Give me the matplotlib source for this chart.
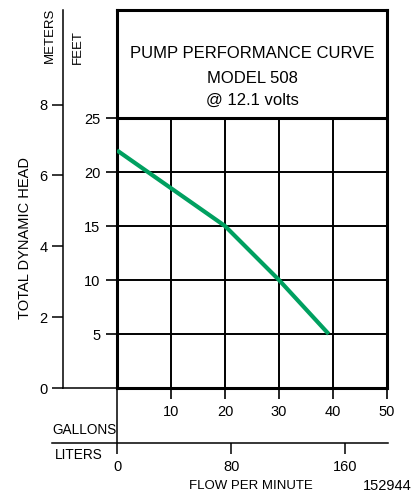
import numpy as np
import matplotlib
matplotlib.use('Agg')
import matplotlib.pyplot as plt

plt.rcParams['font.family'] = ['Liberation Sans Narrow', 'Liberation Sans', 'DejaVu Sans']

# curve data: flow (gallons/min) vs total dynamic head (feet)
flow_gpm = [0, 10, 20, 30, 39.2]
head_ft = [22, 18.5, 15, 10, 5]

feet_ticks = [5, 10, 15, 20, 25]
meter_ticks = [0, 2, 4, 6, 8]
gallon_ticks = [10, 20, 30, 40, 50]
liter_ticks = [0, 80, 160]

W, H = 420, 493
FT_PER_M = 3.2808
L_PER_GAL = 3.785


def box(x0, y0, x1, y1):
    # pixel box (top-left origin) -> figure fraction rect
    return [x0 / W, 1 - y1 / H, (x1 - x0) / W, (y1 - y0) / H]


fig = plt.figure(figsize=(W / 100, H / 100), dpi=100)

# main chart
ax = fig.add_axes(box(117, 10, 387, 388))
ax.set_xlim(0, 50)
ax.set_ylim(0, 35)
for s in ax.spines.values():
    s.set_linewidth(2.2)
for g in [10, 20, 30, 40]:
    ax.plot([g, g], [0, 25], color='black', lw=1.4, zorder=1)
for f in [5, 10, 15, 20]:
    ax.axhline(f, color='black', lw=1.4, zorder=1)
ax.axhline(25, color='black', lw=2.2, zorder=1)
ax.plot(flow_gpm, head_ft, color='#00A060', lw=3.0, solid_capstyle='butt', zorder=3)

ax.set_yticks(feet_ticks)
ax.set_yticklabels([str(t) for t in feet_ticks])
ax.set_xticks(gallon_ticks)
ax.set_xticklabels([str(t) for t in gallon_ticks])
ax.tick_params(axis='both', direction='out', length=8, width=1.2, labelsize=10.5, pad=4)

ax.text(25, 30.95, 'PUMP PERFORMANCE CURVE', ha='center', va='center', fontsize=12)
ax.text(25, 28.65, 'MODEL 508', ha='center', va='center', fontsize=12)
ax.text(25, 26.6, '@ 12.1 volts', ha='center', va='center', fontsize=12)

# meters axis
axm = fig.add_axes(box(63, 10, 117, 388))
axm.set_ylim(0, 35 / FT_PER_M)
axm.set_xlim(0, 1)
axm.patch.set_visible(False)
for k in ['top', 'right']:
    axm.spines[k].set_visible(False)
axm.spines['left'].set_linewidth(1.1)
axm.spines['bottom'].set_linewidth(1.1)
axm.set_xticks([])
axm.set_yticks(meter_ticks)
axm.set_yticklabels([str(t) for t in meter_ticks])
axm.tick_params(axis='y', direction='out', length=8, width=1.1, labelsize=10.5, pad=3)

# liters axis
lx0, lx1 = 52, 388
axl = fig.add_axes(box(lx0, 388, lx1, 443))
gal_per_px = 50 / (387 - 117)
axl.set_xlim((lx0 - 117) * gal_per_px * L_PER_GAL, (lx1 - 117) * gal_per_px * L_PER_GAL)
axl.set_ylim(0, 1)
axl.patch.set_visible(False)
for k in ['top', 'right', 'left']:
    axl.spines[k].set_visible(False)
axl.spines['bottom'].set_linewidth(1.1)
axl.axvline(0, color='black', lw=1.1)
axl.set_yticks([])
axl.set_xticks(liter_ticks)
axl.set_xticklabels([str(t) for t in liter_ticks])
axl.tick_params(axis='x', direction='out', length=8, width=1.1, labelsize=10.5, pad=4)

# labels
fig.text(50 / W, 1 - 35 / H, 'METERS', rotation=90, ha='center', va='center', fontsize=9.5)
fig.text(78 / W, 1 - 47 / H, 'FEET', rotation=90, ha='center', va='center', fontsize=9.5)
fig.text(25 / W, 1 - 238 / H, 'TOTAL DYNAMIC HEAD', rotation=90, ha='center', va='center', fontsize=10.5)
fig.text(52 / W, 1 - 430 / H, 'GALLONS', ha='left', va='center', fontsize=9.8)
fig.text(55 / W, 1 - 455 / H, 'LITERS', ha='left', va='center', fontsize=9.8)
fig.text(251 / W, 1 - 486 / H, 'FLOW PER MINUTE', ha='center', va='center', fontsize=9.5)
fig.text(412 / W, 1 - 486 / H, '152944', ha='right', va='center', fontsize=10.5)

fig.savefig('out.png', dpi=100)
